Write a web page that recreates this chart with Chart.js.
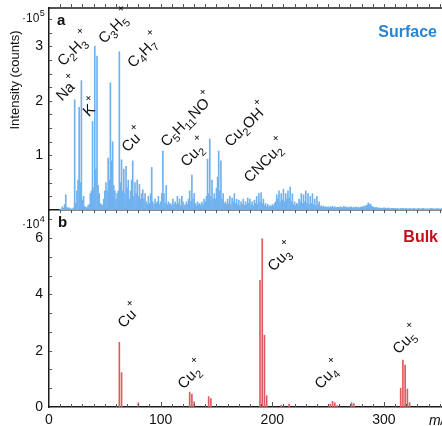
<!DOCTYPE html>
<html>
<head>
<meta charset="utf-8">
<script src="https://cdn.jsdelivr.net/npm/chart.js@4.4.1/dist/chart.umd.min.js"></script>
<style>
    html, body { margin: 0; padding: 0; background: #fff; }
    #wrap { position: relative; width: 442px; height: 426px; overflow: hidden; }
    canvas { position: absolute; left: 0; }
    #grafSurface { top: 0; }
    #grafBulk { top: 210px; }
</style>
</head>
<body>
<div id="wrap">
    <canvas id="grafSurface" width="442" height="216"></canvas>
    <canvas id="grafBulk" width="442" height="216"></canvas>
</div>
<script>
// ===== DATA =====
// surface spectrum, intensity in 10^5 counts, one value per m/z starting at 10
const surfaceFirstMz = 10
const surfaceIntensity = [
    0.01, 0.02, 0.06, 0.03, 0.1, 0.28, 0.05, 0.03, 0.04, 0.02,
    0.02, 0.02, 0.04, 2.02, 0.12, 0.35, 0.55, 1.88, 0.5, 2.37,
    0.18, 0.25, 0.06, 0.05, 0.04, 0.08, 0.1, 0.3, 0.35, 1.62,
    0.4, 3.0, 0.75, 2.82, 0.45, 0.3, 0.12, 0.1, 0.08, 0.2,
    0.35, 0.5, 0.35, 0.95, 0.55, 2.33, 0.9, 1.25, 0.45, 0.35,
    0.2, 0.3, 0.35, 2.9, 0.5, 0.92, 0.35, 0.75, 0.3, 0.8,
    0.4, 0.55, 0.2, 0.35, 0.55, 0.9, 0.25, 0.5, 0.3, 0.55,
    0.25, 0.47, 0.2, 0.3, 0.37, 0.2, 0.3, 0.15, 0.1, 0.25,
    0.12, 0.3, 0.78, 0.15, 0.1, 0.2, 0.12, 0.15, 0.25, 0.1,
    0.15, 0.3, 1.08, 0.3, 0.12, 0.45, 0.1, 0.15, 0.1, 0.12,
    0.08, 0.2, 0.1, 0.15, 0.1, 0.25, 0.12, 0.2, 0.08, 0.25,
    0.15, 0.1, 0.08, 0.15, 0.1, 0.2, 0.35, 0.15, 0.64, 0.2,
    0.3, 0.12, 0.08, 0.15, 0.1, 0.12, 0.08, 0.15, 0.1, 0.2,
    0.15, 0.25, 0.93, 0.3, 1.3, 0.25, 0.55, 0.2, 0.3, 0.2,
    0.4, 0.6, 1.08, 0.35, 0.9, 0.2, 0.3, 0.12, 0.15, 0.1,
    0.2, 0.12, 0.25, 0.1, 0.22, 0.15, 0.3, 0.12, 0.2, 0.1,
    0.18, 0.08, 0.15, 0.1, 0.2, 0.08, 0.15, 0.1, 0.22, 0.12,
    0.2, 0.1, 0.15, 0.08, 0.18, 0.12, 0.25, 0.1, 0.3, 0.15,
    0.32, 0.12, 0.2, 0.08, 0.12, 0.06, 0.1, 0.06, 0.08, 0.06,
    0.1, 0.07, 0.12, 0.15, 0.28, 0.2, 0.35, 0.15, 0.3, 0.18,
    0.38, 0.15, 0.3, 0.2, 0.35, 0.22, 0.42, 0.15, 0.3, 0.1,
    0.15, 0.08, 0.12, 0.1, 0.2, 0.15, 0.3, 0.12, 0.28, 0.15,
    0.35, 0.12, 0.3, 0.1, 0.25, 0.12, 0.3, 0.1, 0.2, 0.08,
    0.25, 0.1, 0.15, 0.06, 0.08, 0.05, 0.07, 0.05, 0.06, 0.05,
    0.06, 0.04, 0.06, 0.05, 0.07, 0.04, 0.06, 0.04, 0.05, 0.05,
    0.04, 0.06, 0.05, 0.04, 0.07, 0.05, 0.06, 0.04, 0.05, 0.04,
    0.06, 0.05, 0.04, 0.05, 0.04, 0.06, 0.04, 0.05, 0.04, 0.05,
    0.06, 0.05, 0.07, 0.06, 0.08, 0.09, 0.13, 0.1, 0.11, 0.07,
    0.06, 0.05, 0.04, 0.05, 0.04, 0.03, 0.04, 0.03, 0.03, 0.04,
    0.03, 0.04, 0.03, 0.03, 0.04, 0.03, 0.02, 0.03, 0.03, 0.02,
    0.03, 0.02, 0.03, 0.02, 0.02, 0.03, 0.02, 0.03, 0.02, 0.02,
    0.03, 0.02, 0.02, 0.03, 0.02, 0.02, 0.02, 0.03, 0.02, 0.02,
    0.02, 0.03, 0.02, 0.02, 0.02, 0.03, 0.02, 0.02, 0.02, 0.02,
    0.02, 0.02, 0.03, 0.02, 0.02, 0.02, 0.02, 0.02, 0.03, 0.02,
    0.02, 0.02, 0.02
]
const surfaceMz = surfaceIntensity.map((_, i) => surfaceFirstMz + i)

// bulk spectrum, intensity in 10^4 counts
const bulkMz = [63, 65, 80, 126, 128, 130, 143, 145, 189, 191, 193, 195, 208, 215, 252, 254, 256, 258, 271, 273, 315, 317, 319, 321, 323]
const bulkIntensity = [2.3, 1.22, 0.15, 0.53, 0.46, 0.18, 0.37, 0.3, 4.5, 5.98, 2.55, 0.4, 0.06, 0.1, 0.1, 0.2, 0.15, 0.05, 0.15, 0.12, 0.67, 1.67, 1.49, 0.64, 0.15]

// peak labels: text, m/z of label centre, intensity of label centre
const surfaceLabels = ["Na^+", "C_2H_3^+", "K^+", "C_3H_5^+", "C_4H_7^+", "Cu^+", "C_5H_11NO^+", "Cu_2^+", "Cu_2OH^+", "CNCu_2^+"]
const surfaceLabelMz = [16.5, 22.4, 37.6, 59.2, 85.1, 75.3, 123.7, 130, 176.6, 193.6]
const surfaceLabelY = [2.22, 2.95, 1.87, 3.36, 2.92, 1.28, 1.65, 1.05, 1.56, 0.9]

const bulkLabels = ["Cu^+", "Cu_2^+", "Cu_3^+", "Cu_4^+", "Cu_5^+"]
const bulkLabelMz = [71.7, 127.3, 208, 250, 320]
const bulkLabelY = [3.23, 1.14, 5.32, 1.14, 2.38]

const xTicks = [0, 100, 200, 300]
const surfaceYTicks = [1, 2, 3]
const bulkYTicks = [0, 2, 4, 6]

const X_MAX = 352
const FONT = "\"Liberation Sans\", Arial, sans-serif"

// ===== HELPERS =====
function splitFormula(txt) {
    const parts = []
    const re = /_(\d+)|\^(\+)|([^_^]+)/g
    let m
    while ((m = re.exec(txt))) {
        if (m[1]) parts.push({ t: m[1], kind: "sub" })
        else if (m[2]) parts.push({ t: m[2], kind: "sup" })
        else parts.push({ t: m[3], kind: "" })
    }
    return parts
}

function drawFormula(ctx, txt, x, y) {
    const parts = splitFormula(txt)
    ctx.save()
    ctx.translate(x, y)
    ctx.rotate(-Math.PI / 4)
    ctx.fillStyle = "#111"
    ctx.textAlign = "left"
    ctx.textBaseline = "alphabetic"
    let w = 0
    parts.forEach(p => {
        ctx.font = (p.kind ? "11px " : "15px ") + FONT
        p.w = ctx.measureText(p.t).width
        w += p.w
    })
    let cx = -w / 2
    parts.forEach(p => {
        ctx.font = (p.kind ? "11px " : "15px ") + FONT
        const dy = p.kind === "sub" ? 9 : p.kind === "sup" ? -5 : 5
        ctx.fillText(p.t, cx, dy)
        cx += p.w
    })
    ctx.restore()
}

function drawPower(ctx, exp, x, y) {
    ctx.save()
    ctx.fillStyle = "#111"
    ctx.textAlign = "left"
    ctx.textBaseline = "alphabetic"
    ctx.font = "12px " + FONT
    ctx.fillText("·10", x, y)
    const w = ctx.measureText("·10").width
    ctx.font = "9px " + FONT
    ctx.fillText(exp, x + w + 0.5, y - 6)
    ctx.restore()
}

function tickList(vals) {
    return function (scale) {
        scale.ticks = vals.map(v => ({ value: v }))
    }
}

function fixWidth(w) {
    return function (scale) {
        scale.width = w
        scale.paddingTop = 0
        scale.paddingBottom = 0
    }
}

function fixHeight(h) {
    return function (scale) {
        scale.height = h
        scale.paddingLeft = 0
        scale.paddingRight = 0
    }
}

const axisBorder = { display: true, color: "#1a1a1a", width: 1.5 }
const noGrid = { display: false, drawTicks: false, offset: false }
const tickFont = { family: FONT, size: 14 }

// ===== PLUGINS =====
const surfaceDecor = {
    id: "surfaceDecor",
    afterDraw(chart) {
        const ctx = chart.ctx
        const { left, right, top, bottom } = chart.chartArea
        const xs = chart.scales.x, ys = chart.scales.y
        ctx.save()

        // top border
        ctx.strokeStyle = "#1a1a1a"
        ctx.lineWidth = 1.5
        ctx.beginPath()
        ctx.moveTo(left, top)
        ctx.lineTo(right, top)
        ctx.stroke()

        // minor ticks
        ctx.lineWidth = 1
        ctx.strokeStyle = "#555"
        ctx.beginPath()
        for (let v = 10; v <= xs.max; v += 10) {
            const px = Math.round(xs.getPixelForValue(v)) + 0.5
            ctx.moveTo(px, top - 4)
            ctx.lineTo(px, top)
        }
        for (let v = 0.25; v < ys.max; v += 0.25) {
            const py = Math.round(ys.getPixelForValue(v)) + 0.5
            ctx.moveTo(left, py)
            ctx.lineTo(left + 3, py)
        }
        ctx.stroke()

        // panel letter and title
        ctx.fillStyle = "#111"
        ctx.font = "bold 15px " + FONT
        ctx.fillText("a", left + 8, top + 17)
        ctx.fillStyle = "#2a84d2"
        ctx.font = "bold 16px " + FONT
        ctx.textAlign = "right"
        ctx.fillText("Surface", right - 5, top + 29)

        // y title
        ctx.save()
        ctx.translate(15, 80)
        ctx.rotate(-Math.PI / 2)
        ctx.textAlign = "center"
        ctx.textBaseline = "middle"
        ctx.fillStyle = "#111"
        ctx.font = "13px " + FONT
        ctx.fillText("Intensity (counts)", 0, 0)
        ctx.restore()
        ctx.restore()

        drawPower(ctx, "5", 22, 22)

        surfaceLabels.forEach((txt, i) => {
            drawFormula(ctx, txt, xs.getPixelForValue(surfaceLabelMz[i]), ys.getPixelForValue(surfaceLabelY[i]))
        })
    }
}

const bulkDecor = {
    id: "bulkDecor",
    afterDraw(chart) {
        const ctx = chart.ctx
        const { left, right, top, bottom } = chart.chartArea
        const xs = chart.scales.x, ys = chart.scales.y
        ctx.save()

        ctx.lineWidth = 1
        ctx.strokeStyle = "#555"
        ctx.beginPath()
        for (let v = 10; v <= xs.max; v += 10) {
            const px = Math.round(xs.getPixelForValue(v)) + 0.5
            ctx.moveTo(px, top)
            ctx.lineTo(px, top + 3)
            ctx.moveTo(px, bottom - (v % 100 === 0 ? 5 : 3))
            ctx.lineTo(px, bottom)
        }
        for (let k = 1; k * 2 / 3 < ys.max; k++) {
            const py = Math.round(ys.getPixelForValue(k * 2 / 3)) + 0.5
            ctx.moveTo(left, py)
            ctx.lineTo(left + 3, py)
        }
        ctx.stroke()

        ctx.fillStyle = "#111"
        ctx.font = "bold 15px " + FONT
        ctx.fillText("b", left + 9, top + 17)
        ctx.fillStyle = "#c4101c"
        ctx.font = "bold 16px " + FONT
        ctx.textAlign = "right"
        ctx.fillText("Bulk", right - 4, top + 32)

        // x axis name, cut by the edge as in the figure
        ctx.textAlign = "left"
        ctx.fillStyle = "#111"
        ctx.font = "italic 14px " + FONT
        ctx.fillText("m/z", right - 13, bottom + 18)
        ctx.restore()

        drawPower(ctx, "4", 22, 18)

        bulkLabels.forEach((txt, i) => {
            drawFormula(ctx, txt, xs.getPixelForValue(bulkLabelMz[i]), ys.getPixelForValue(bulkLabelY[i]))
        })
    }
}

// ===== CHARTS =====
Chart.defaults.font.family = FONT
Chart.defaults.color = "#111"

new Chart(document.getElementById("grafSurface"), {
    type: "bar",
    data: {
        datasets: [{
            data: surfaceMz.map((m, i) => ({ x: m, y: surfaceIntensity[i] })),
            backgroundColor: "#70b2f0",
            borderWidth: 0,
            barThickness: 1
        }]
    },
    options: {
        responsive: false,
        animation: false,
        devicePixelRatio: 1,
        layout: { padding: { top: 8, left: 0, right: 0, bottom: 0 } },
        plugins: { legend: { display: false }, tooltip: { enabled: false } },
        scales: {
            x: {
                type: "linear", min: 0, max: X_MAX, offset: false,
                grid: noGrid,
                border: axisBorder,
                ticks: { display: false },
                afterFit: fixHeight(6)
            },
            y: {
                min: 0, max: 3.7,
                grid: noGrid,
                border: axisBorder,
                ticks: { font: tickFont, padding: 6, color: "#111" },
                afterBuildTicks: tickList(surfaceYTicks),
                afterFit: fixWidth(49)
            }
        }
    },
    plugins: [surfaceDecor]
})

new Chart(document.getElementById("grafBulk"), {
    type: "bar",
    data: {
        datasets: [{
            data: bulkMz.map((m, i) => ({ x: m, y: bulkIntensity[i] })),
            backgroundColor: "#dd5a5f",
            borderWidth: 0,
            barThickness: 1
        }]
    },
    options: {
        responsive: false,
        animation: false,
        devicePixelRatio: 1,
        layout: { padding: 0 },
        plugins: { legend: { display: false }, tooltip: { enabled: false } },
        scales: {
            x: {
                type: "linear", min: 0, max: X_MAX, offset: false,
                grid: noGrid,
                border: axisBorder,
                ticks: { font: tickFont, padding: 5, color: "#111", maxRotation: 0 },
                afterBuildTicks: tickList(xTicks),
                afterFit: fixHeight(19)
            },
            y: {
                min: 0, max: 7,
                grid: noGrid,
                border: axisBorder,
                ticks: { font: tickFont, padding: 6, color: "#111" },
                afterBuildTicks: tickList(bulkYTicks),
                afterFit: fixWidth(49)
            }
        }
    },
    plugins: [bulkDecor]
})
</script>
</body>
</html>
